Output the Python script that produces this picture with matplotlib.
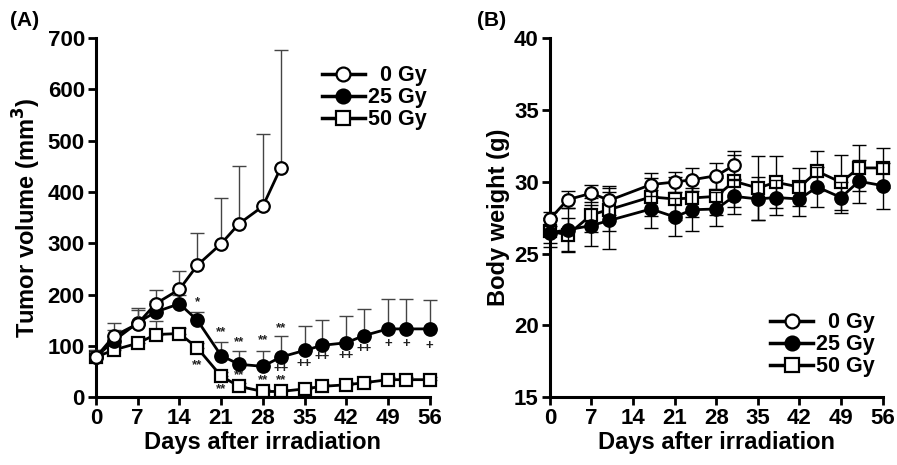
import matplotlib
matplotlib.use("Agg")
import matplotlib.pyplot as plt
from matplotlib.lines import Line2D

plt.rcParams['font.family'] = ['Liberation Sans', 'DejaVu Sans']
plt.rcParams['font.weight'] = 'bold'

# --- (A) tumour volume, mean and upper SD ---
days_0 = [0, 3, 7, 10, 14, 17, 21, 24, 28, 31]
days_all = [0, 3, 7, 10, 14, 17, 21, 24, 28, 31, 35, 38, 42, 45, 49, 52, 56]

vol_0 = [78, 119, 143, 182, 210, 257, 299, 338, 372, 447]
vol_0_sd = [14, 25, 31, 26, 35, 63, 90, 112, 142, 229]

vol_25 = [78, 110, 145, 166, 182, 150, 81, 64, 60, 78, 91, 101, 106, 120, 133, 133, 133]
vol_25_sd = [10, 20, 25, 22, 18, 16, 27, 26, 30, 42, 47, 49, 52, 52, 59, 59, 57]

vol_50 = [78, 92, 105, 122, 124, 96, 41, 21, 11, 11, 16, 21, 24, 28, 34, 34, 34]
vol_50_sd = [10, 10, 12, 26, 10, 10, 8, 6, 5, 5, 5, 5, 5, 5, 5, 5, 5]

# significance marks (day, y, text)
marks_a = [
    (17, 186, '*'), (21, 127, '**'), (24, 108, '**'), (28, 111, '**'), (31, 135, '**'),
    (17, 62, '**'), (21, 15, '**'), (24, 43, '**'), (28, 34, '**'), (31, 34, '**'),
    (31, 54, '++'), (35, 64, '++'), (38, 78, '++'), (42, 81, '++'), (45, 94, '++'),
    (49, 103, '+'), (52, 103, '+'), (56, 100, '+'),
]

# --- (B) body weight, mean and SD ---
bw_days_0 = [0, 3, 7, 10, 17, 21, 24, 28, 31]
bw_days = [0, 3, 7, 10, 17, 21, 24, 28, 31, 35, 38, 42, 45, 49, 52, 56]

bw_0 = [27.4, 28.75, 29.2, 28.7, 29.8, 29.98, 30.14, 30.42, 31.14]
bw_0_sd = [0.5, 0.6, 0.6, 1.0, 0.8, 0.7, 0.8, 0.9, 1.0]

bw_25 = [26.45, 26.65, 26.95, 27.3, 28.1, 27.55, 28.05, 28.1, 28.98, 28.8, 28.9, 28.8, 29.63, 28.9, 30.03, 29.73]
bw_25_sd = [1.0, 1.5, 1.4, 2.0, 1.3, 1.3, 1.5, 1.2, 1.2, 1.5, 1.2, 1.2, 1.4, 1.1, 1.5, 1.6]

bw_50 = [26.55, 26.3, 27.7, 28.06, 28.94, 28.8, 28.87, 28.98, 30.03, 29.56, 29.96, 29.63, 30.72, 29.96, 30.96, 30.96]
bw_50_sd = [0.8, 1.2, 1.2, 1.5, 1.3, 1.5, 1.3, 1.3, 1.8, 2.2, 1.8, 1.3, 1.4, 1.9, 1.6, 1.4]

labels = ['  0 Gy', '25 Gy', '50 Gy']
styles = [
    dict(marker='o', mfc='white', ms=9),
    dict(marker='o', mfc='black', ms=9),
    dict(marker='s', mfc='white', ms=8.5),
]


def plot_series(ax, x, y, err, style, z, both=False):
    yerr = [err, err] if both else [[0] * len(err), err]
    ax.errorbar(x, y, yerr=yerr, fmt='none', ecolor='black' if both else '#444444',
                elinewidth=1.0, capsize=5, capthick=1.0, zorder=z, clip_on=False)
    ax.plot(x, y, color='black', lw=2.0, mec='black', mew=1.6, zorder=z + 0.5,
            clip_on=False, **style)


def style_axes(ax):
    for s in ['top', 'right']:
        ax.spines[s].set_visible(False)
    for s in ['left', 'bottom']:
        ax.spines[s].set_linewidth(2.2)
    ax.tick_params(width=2.0, length=6, labelsize=16, pad=2)
    ax.set_xlim(0, 56)
    ax.set_xticks(range(0, 57, 7))
    ax.set_xlabel('Days after irradiation', fontsize=17, fontweight='bold', labelpad=1)


def legend(ax, loc, anchor):
    handles = [Line2D([], [], color='black', lw=2.5, mec='black', mew=1.6,
                      **{**st, 'ms': st['ms'] + 1}) for st in styles]
    lg = ax.legend(handles, labels, loc=loc, bbox_to_anchor=anchor, frameon=False,
                   fontsize=15.5, handlelength=2.0, handletextpad=0.15,
                   labelspacing=0.05, borderpad=0)
    for t in lg.get_texts():
        t.set_fontweight('bold')


fig = plt.figure(figsize=(8.97, 4.65), dpi=100)
ax1 = fig.add_axes([0.107, 0.146, 0.372, 0.772])
ax2 = fig.add_axes([0.613, 0.146, 0.371, 0.772])

plot_series(ax1, days_all, vol_50, vol_50_sd, styles[2], 3)
plot_series(ax1, days_all, vol_25, vol_25_sd, styles[1], 4)
plot_series(ax1, days_0, vol_0, vol_0_sd, styles[0], 5)
for d, yv, txt in marks_a:
    ax1.text(d, yv, txt, ha='center', va='center', fontsize=9.5, fontweight='bold',
             color='#222222')
style_axes(ax1)
ax1.set_ylim(0, 700)
ax1.set_yticks(range(0, 701, 100))
ax1.set_ylabel('Tumor volume (mm$^\\mathbf{3}$)', fontsize=17, fontweight='bold', labelpad=3)
legend(ax1, 'upper right', (1.024, 0.955))

plot_series(ax2, bw_days, bw_50, bw_50_sd, styles[2], 3, both=True)
plot_series(ax2, bw_days, bw_25, bw_25_sd, styles[1], 4, both=True)
plot_series(ax2, bw_days_0, bw_0, bw_0_sd, styles[0], 5, both=True)
style_axes(ax2)
ax2.set_ylim(15, 40)
ax2.set_yticks(range(15, 41, 5))
ax2.set_ylabel('Body weight (g)', fontsize=17, fontweight='bold', labelpad=3)
legend(ax2, 'lower right', (1.01, 0.025))

fig.text(0.011, 0.955, '(A)', fontsize=15, fontweight='bold', va='center')
fig.text(0.532, 0.955, '(B)', fontsize=15, fontweight='bold', va='center')

fig.savefig('out.png', dpi=100)
